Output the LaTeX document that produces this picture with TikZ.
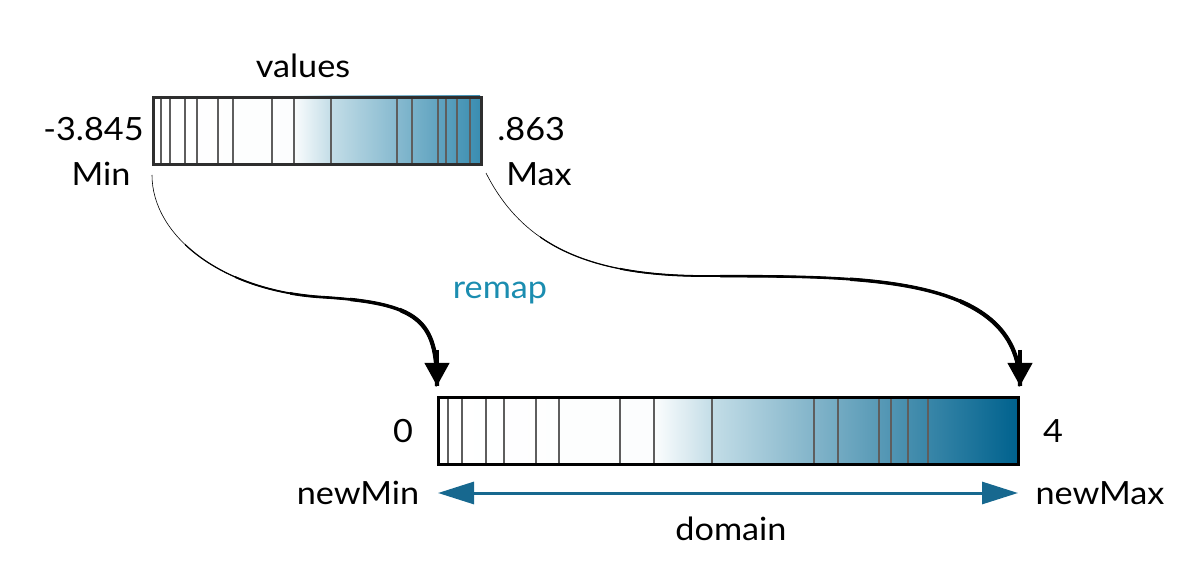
\documentclass[tikz,border=0pt]{standalone}
\usepackage{fontspec}
\setmainfont{Lato}[FakeStretch=1.07]
\usetikzlibrary{arrows.meta}
\definecolor{tealtxt}{HTML}{1B8DB0}
\definecolor{arrowteal}{HTML}{17688F}
\definecolor{lightblue}{HTML}{C3DDE7}
\definecolor{topdark}{HTML}{3A8DB1}
\definecolor{botdark}{HTML}{00628E}
\definecolor{tickgray}{HTML}{5E5E5E}
\definecolor{topborder}{HTML}{2E2E2E}
\newcommand\leftcurve{(lcs) .. controls (152,235) and (220,290) .. (320,297) .. controls (420,303) and (437,320) .. (lce)}
\newcommand\rightcurve{(rcs) .. controls (520,240) and (580,275) .. (700,276) .. controls (850,277) and (1020,270) .. (rce)}
\begin{document}
\begin{tikzpicture}[x=0.5pt,y=-0.5pt,
  lbl/.style={font=\fontsize{16}{19}\selectfont, anchor=base, inner sep=0pt},
  tick/.style={draw=tickgray, line width=1pt},
  curvetip/.style={-{Triangle[width=12pt,length=11.5pt]}}]
\useasboundingbox (0,0) rectangle (1200,577);

% ---- top bar (values)
\shade[left color=white, right color=white!95!lightblue] (152,96) rectangle (293,163);
\shade[left color=white!95!lightblue, right color=lightblue] (293,96) rectangle (331,163);
\shade[left color=lightblue, right color=topdark] (331,96) rectangle (480,163);
\foreach \x in {161,170,185,197,218,233,272,294,331,397,412,438,446,457,470}
  \draw[tick] (\x,96) -- (\x,163);
\node[draw=topborder, line width=1.3pt, minimum width=164pt, minimum height=33.5pt,
      inner sep=0pt, anchor=north west] (vals) at (152,96) {};

% ---- bottom bar (domain)
\shade[left color=white, right color=white!95!lightblue] (437,396) rectangle (654,463);
\shade[left color=white!95!lightblue, right color=lightblue] (654,396) rectangle (712,463);
\shade[left color=lightblue, right color=botdark] (712,396) rectangle (1017,463);
\foreach \x in {448,462,486,504,536,559,620,654,712,814,838,879,891,908,928}
  \draw[tick] (\x,396) -- (\x,463);
\node[draw=black, line width=1.7pt, minimum width=290pt, minimum height=33.5pt,
      inner sep=0pt, anchor=north west] (dom) at (437,396) {};

% ---- labels
\node[lbl] (tvalues) at (303,78) {values};
\node[lbl, anchor=base east] (tminv) at (144,141) {-3.845};
\node[lbl] (tmin) at (101,186) {Min};
\node[lbl, anchor=base west] (tmaxv) at (497,141) {.863};
\node[lbl] (tmax) at (539,186) {Max};
\node[lbl, text=tealtxt] (tremap) at (500,299) {remap};
\node[lbl] (tzero) at (403,442) {0};
\node[lbl] (tfour) at (1053,442) {4};
\node[lbl] (tnewmin) at (358,504) {newMin};
\node[lbl] (tnewmax) at (1100,504) {newMax};
\node[lbl] (tdomain) at (731,540) {domain};

% ---- remap curves (tapered)
\coordinate (lcs) at (152,175);
\coordinate (lce) at (437,386);
\coordinate (rcs) at (486,173);
\coordinate (rce) at (1020,386);

\draw[line width=0.3pt] \leftcurve;
\foreach \xx/\w in {185/0.6, 235/0.9, 290/1.3, 350/1.7, 400/2.1} {
  \begin{scope}
    \clip (\xx,0) rectangle (1200,577);
    \draw[line width=\w pt] \leftcurve;
  \end{scope}
}
\draw[line width=2.1pt, curvetip] (437,350) -- (lce);

\draw[line width=0.3pt] \rightcurve;
\foreach \xx/\w in {540/0.6, 620/0.9, 720/1.3, 850/1.7, 960/2.1} {
  \begin{scope}
    \clip (\xx,0) rectangle (1200,577);
    \draw[line width=\w pt] \rightcurve;
  \end{scope}
}
\draw[line width=2.1pt, curvetip] (1020,350) -- (rce);

% ---- domain arrow
\coordinate (dl) at (438,493);
\coordinate (dr) at (1018,493);
\draw[draw=arrowteal, fill=arrowteal, line width=1.5pt,
  {Triangle[width=11pt,length=18pt]}-{Triangle[width=11pt,length=18pt]}] (dl) -- (dr);
\end{tikzpicture}
\end{document}
